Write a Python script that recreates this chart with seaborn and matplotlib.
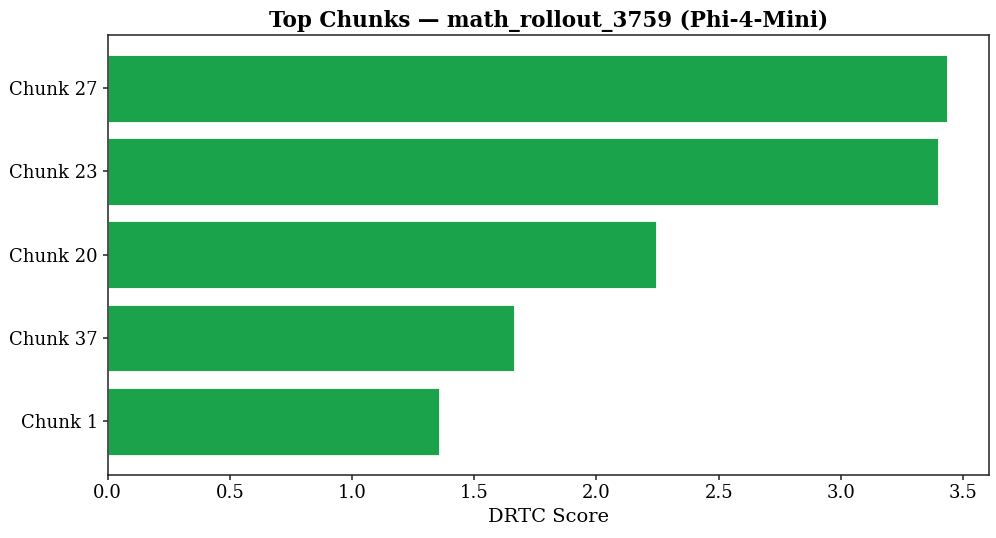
import matplotlib
matplotlib.use('Agg')
import matplotlib.pyplot as plt
import seaborn as sns

chunks = ['Chunk 27', 'Chunk 23', 'Chunk 20', 'Chunk 37', 'Chunk 1']
scores = [3.434, 3.398, 2.242, 1.661, 1.357]

plt.rcParams['font.family'] = ['DejaVu Serif']

fig, ax = plt.subplots(figsize=(9.96, 5.38), dpi=100)
sns.barplot(x=scores, y=chunks, color='#1aa34a', saturation=1, width=0.8,
            edgecolor='white', linewidth=0.6, ax=ax)

n = len(chunks)
pad = 0.05 * (n - 1 + 0.8)
ax.set_ylim(n - 1 + 0.4 + pad, -0.4 - pad)
ax.set_xlim(0, max(scores) * 1.05)

ax.set_title('Top Chunks — math_rollout_3759 (Phi-4-Mini)', fontsize=15.5, fontweight='bold')
ax.set_xlabel('DRTC Score', fontsize=14)
ax.set_ylabel('')
ax.tick_params(labelsize=13, color='#222222', width=1.1)
for s in ax.spines.values():
    s.set_color('#222222')
    s.set_linewidth(1.1)

fig.subplots_adjust(left=0.108, right=0.993, top=0.935, bottom=0.118)
fig.savefig('out.png', dpi=100)
